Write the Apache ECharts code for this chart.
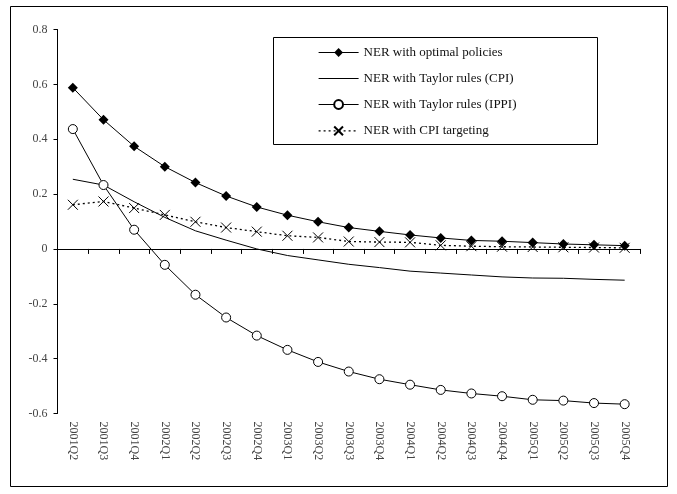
<!DOCTYPE html>
<html>
<head>
<meta charset="utf-8">
<script src="https://cdn.jsdelivr.net/npm/echarts@6/dist/echarts.min.js"></script>
<style>
html,body{margin:0;padding:0;background:#fff;}
#main{width:677px;height:494px;}
</style>
</head>
<body>
<div id="main"></div>
<script>
var categories = ['2001Q2','2001Q3','2001Q4','2002Q1','2002Q2','2002Q3','2002Q4','2003Q1','2003Q2','2003Q3','2003Q4','2004Q1','2004Q2','2004Q3','2004Q4','2005Q1','2005Q2','2005Q3','2005Q4'];
var optimal = [0.588,0.471,0.374,0.300,0.242,0.193,0.153,0.123,0.099,0.078,0.064,0.051,0.040,0.031,0.028,0.023,0.018,0.015,0.012];
var taylorCPI = [0.254,0.233,0.172,0.115,0.066,0.032,0.000,-0.024,-0.040,-0.056,-0.068,-0.081,-0.088,-0.095,-0.102,-0.106,-0.107,-0.111,-0.114];
var taylorIPPI = [0.437,0.233,0.070,-0.058,-0.167,-0.250,-0.316,-0.368,-0.412,-0.447,-0.475,-0.495,-0.514,-0.527,-0.537,-0.550,-0.553,-0.562,-0.566];
var cpiTarget = [0.161,0.173,0.149,0.124,0.099,0.078,0.063,0.048,0.042,0.027,0.025,0.024,0.013,0.010,0.008,0.007,0.006,0.005,0.004];
var seriesNames = ['NER with optimal policies','NER with Taylor rules (CPI)','NER with Taylor rules (IPPI)','NER with CPI targeting'];
var yTicks = {min:-0.6, max:0.8, interval:0.2};

var FONT = '"Liberation Serif", "DejaVu Serif", serif';
var chart = echarts.init(document.getElementById('main'), null, {renderer:'canvas'});
var thin = {width:1};
var option = {
  animation: false,
  backgroundColor: '#fff',
  graphic: [
    {type:'rect', shape:{x:10.5, y:6.5, width:657, height:480}, style:{fill:'none', stroke:'#000', lineWidth:1}, silent:true, z:-1},
    {type:'rect', shape:{x:273.5, y:37.5, width:324, height:107}, style:{fill:'#fff', stroke:'#000', lineWidth:1}, silent:true, z:5}
  ],
  grid: {left:57.5, right:37, top:29.5, bottom:80.5},
  legend: {
    orient:'vertical', left:313, top:41, itemWidth:40, itemHeight:11, itemGap:13,
    textStyle:{fontFamily:FONT, fontSize:13, color:'#111'},
    data: [
      {name:seriesNames[0], lineStyle:thin},
      {name:seriesNames[1], lineStyle:thin, itemStyle:{color:'rgba(0,0,0,0)', borderColor:'rgba(0,0,0,0)', borderWidth:0}},
      {name:seriesNames[2], lineStyle:thin},
      {name:seriesNames[3], lineStyle:{width:1.2}}
    ], z:10, selectedMode:false
  },
  xAxis: [
    {type:'category', data:categories, position:'bottom', boundaryGap:true,
     axisLine:{onZero:true, lineStyle:{color:'#000', width:1}},
     axisTick:{show:true, inside:false, length:5, interval:0, lineStyle:{color:'#000'}},
     axisLabel:{show:false}, splitLine:{show:false}},
    {type:'category', data:categories, position:'bottom', boundaryGap:true,
     axisLine:{show:false, onZero:false}, axisTick:{show:false},
     axisLabel:{show:true, interval:0, rotate:-90, margin:8, fontFamily:FONT, fontSize:12, color:'#444'},
     splitLine:{show:false}}
  ],
  yAxis: {
    type:'value', min:yTicks.min, max:yTicks.max, interval:yTicks.interval,
    axisLine:{show:true, lineStyle:{color:'#000', width:1}},
    axisTick:{show:true, inside:false, length:4, lineStyle:{color:'#000'}},
    axisLabel:{fontFamily:FONT, fontSize:12, color:'#444', margin:10,
      formatter:function(v){ return Math.abs(v) < 1e-9 ? '0' : v.toFixed(1); }},
    splitLine:{show:false}
  },
  series: [
    {name:seriesNames[0], type:'line', xAxisIndex:0, data:optimal, symbol:'diamond', symbolSize:10,
     itemStyle:{color:'#000', borderColor:'#000', borderWidth:0}, lineStyle:{color:'#000', width:1}},
    {name:seriesNames[1], type:'line', xAxisIndex:0, data:taylorCPI, showSymbol:false, symbol:'none',
     itemStyle:{color:'#000'}, lineStyle:{color:'#000', width:1}},
    {name:seriesNames[2], type:'line', xAxisIndex:0, data:taylorIPPI, symbol:'circle', symbolSize:9,
     itemStyle:{color:'#fff', borderColor:'#000', borderWidth:1}, lineStyle:{color:'#000', width:1}},
    {name:seriesNames[3], type:'line', xAxisIndex:0, data:cpiTarget, symbol:'path://M0,0L10,10M10,0L0,10', symbolSize:10,
     itemStyle:{color:'none', borderColor:'#000', borderWidth:1}, lineStyle:{color:'#000', width:1.3, type:[2,3]}}
  ]
};
chart.setOption(option);
</script>
</body>
</html>
